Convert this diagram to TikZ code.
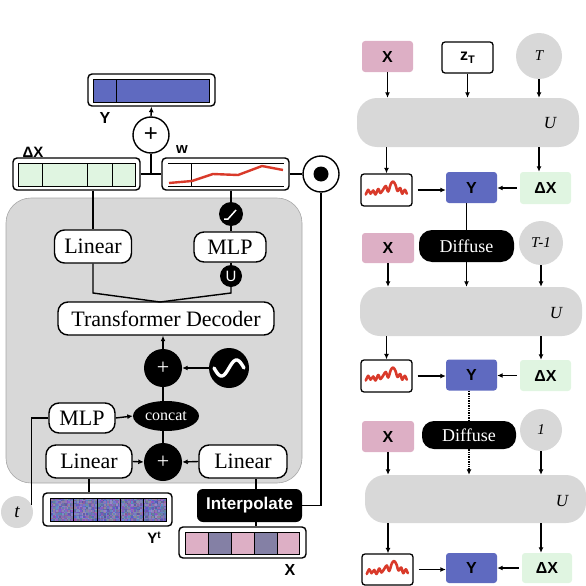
\documentclass[tikz,border=0pt]{standalone}
\usepackage{fontspec}
\setmainfont{Liberation Serif}
\setsansfont{Liberation Sans}
\usetikzlibrary{arrows.meta,shapes.geometric,calc}
\definecolor{pinkX}{RGB}{221,175,197}
\definecolor{purpX}{RGB}{132,128,165}
\definecolor{blueY}{RGB}{95,106,192}
\definecolor{greenD}{RGB}{224,245,225}
\definecolor{grayC}{RGB}{216,216,216}
\definecolor{redW}{RGB}{217,58,42}
\newcommand{\fsz}[1]{\fontsize{#1}{#1}\selectfont}
\tikzset{
  ln/.style={line width=1.4pt},
  arr/.style={line width=1.4pt,-{Latex[length=5.5pt,width=5pt]}},
  whitebox/.style={draw,line width=1.4pt,fill=white,rounded corners=10pt,inner sep=0pt,font=\fsz{22}},
  blackcirc/.style={circle,fill=black,inner sep=0pt,text=white},
  framebox/.style={draw,line width=1.4pt,fill=white,rounded corners=4pt,inner sep=0pt},
  lbl/.style={inner sep=0pt,font=\sffamily\bfseries\fsz{16}},
  smallbox/.style={rounded corners=3pt,inner sep=0pt,minimum width=51pt,minimum height=31pt,font=\sffamily\bfseries\fsz{16}},
  ublock/.style={fill=grayC,rounded corners=20pt,inner sep=0pt,minimum height=49pt},
  ulab/.style={inner sep=0pt,font=\itshape\fsz{17}},
  timecirc/.style={circle,fill=grayC,inner sep=0pt,font=\itshape\fsz{15}},
  diffbox/.style={fill=black,text=white,rounded corners=13pt,inner sep=0pt,minimum width=95pt,font=\fsz{18}},
  wavepath/.style={redW,line width=2.6pt,line join=round,line cap=round}
}
\newcommand{\wave}[1]{%
  \draw[wavepath,shift={(#1)},yshift=-0.5pt] plot[smooth,tension=0.5] coordinates {(-20.7,4) (-18.3,-0.7) (-16,3.2) (-13.3,0) (-11,4) (-8.3,-1.5) (-6,2.5) (-3,-1.5) (-0.7,-4.5) (1.7,1) (4.3,-6.5) (6.7,-9) (9,-5.5) (11,0.5) (13.7,-2.5) (15.7,3.2) (18.3,-0.7) (20.3,3.2)};}
\begin{document}
\begin{tikzpicture}[x=1pt,y=-1pt]
\useasboundingbox (0,0) rectangle (586,586);

% ---------------- left: panel ----------------
\draw[fill=grayC,draw=black!35,line width=0.6pt,rounded corners=25pt] (6,198) rectangle (302,483);

% Y output box
\node[framebox,minimum width=127pt,minimum height=32pt] (ybox) at (151.5,90) {};
\fill[blueY] (93,79) rectangle (209,102);
\draw[line width=0.6pt] (93,79) rectangle (209,102) (116,79) -- (116,102);
\node[lbl,font=\sffamily\bfseries\fsz{16}] (ylab) at (105,118) {Y};

% plus (white)
\node[circle,draw,line width=1.4pt,fill=white,minimum size=36pt,inner sep=0pt,font=\sffamily\fsz{24}] (plusA) at (151,135) {+};
\draw[arr] (plusA.north) -- (ybox.south);

% Delta X box
\node[lbl,font=\sffamily\bfseries\fsz{15}] (dxlab) at (33,152) {ΔX};
\node[framebox,minimum width=127pt,minimum height=32pt] (dxbox) at (76.5,174) {};
\fill[greenD] (18,163) rectangle (135,186);
\draw[line width=0.8pt] (18,163) rectangle (135,186) (42,163) -- (42,186) (87,163) -- (87,186) (112,163) -- (112,186);

% w box
\node[lbl,font=\sffamily\bfseries\fsz{15}] (wlab) at (182,150) {w};
\node[framebox,minimum width=127pt,minimum height=32pt] (wbox) at (225.5,174) {};
\draw[line width=0.8pt] (168,163) -- (284,163) (168,186) -- (284,186) (191,163) -- (191,186);
\draw[redW,line width=2.4pt,line join=round] (169,183) -- (192,181) -- (213,174) -- (238,175) -- (262,166) -- (283,170);

% junction
\coordinate (junc) at (151,174);
\draw[ln] (dxbox.east) -- (wbox.west);
\draw[ln] (plusA.south) -- (junc);

% odot
\node[circle,draw,line width=1.4pt,fill=white,minimum size=36pt,inner sep=0pt] (odot) at (321,174) {};
\fill (odot.center) circle (7.5);
\draw[ln] (wbox.east) -- (odot.west);

% top Linear / MLP
\node[whitebox,minimum width=77pt,minimum height=33pt] (linA) at (93,246.5) {Linear};
\node[whitebox,minimum width=72pt,minimum height=30pt] (mlpA) at (230,247) {MLP};
\node[blackcirc,minimum size=24pt] (actA) at (231,214) {};
\draw[white,line width=1.5pt] ($(actA)+(-7,5)$) -- ($(actA)+(-3,5)$) -- ($(actA)+(5,-4)$);
\node[blackcirc,minimum size=22pt,font=\sffamily\fsz{15}] (uA) at (231,276) {U};

\draw[ln] (wbox.south -| actA) -- (actA.north);
\draw[ln] (actA.south) -- (mlpA.north -| actA);
\draw[ln] (mlpA.south -| uA) -- (uA.north);
\draw[ln] (dxbox.south -| linA) -- (linA.north);

% transformer decoder
\node[whitebox,minimum width=216pt,minimum height=33pt] (tdec) at (166,318.5) {Transformer Decoder};
\coordinate (merge) at (160,302);
\draw[ln] (linA.south) -- (93,293) -- (merge);
\draw[ln] (uA.south) -- (231,293) -- (merge);

% plus B + sine
\node[blackcirc,minimum size=38pt,font=\fsz{22}] (plusB) at (163,368) {+};
\node[blackcirc,minimum size=40pt] (sine) at (229,368) {};
\draw[white,line width=3.4pt,line cap=round] plot[domain=-15:15,samples=50] ({229+\x},{368-8*sin(\x/15*180)});
\draw[arr] (plusB.north) -- (tdec.south -| plusB);
\draw[arr] (sine.west) -- (plusB.east);

% concat + MLP
\node[ellipse,fill=black,text=white,minimum width=66pt,minimum height=30pt,inner sep=0pt,font=\fsz{16}] (concat) at (166,416) {concat};
\node[whitebox,minimum width=66pt,minimum height=30pt] (mlpB) at (82,418) {MLP};
\draw[arr] (mlpB.east) -- (concat.west);
\draw[ln] (concat.north -| plusB) -- (plusB.south);

% plus C + linears
\node[blackcirc,minimum size=38pt,font=\fsz{22}] (plusC) at (163,462) {+};
\node[whitebox,minimum width=86pt,minimum height=33pt] (linB) at (89,461.5) {Linear};
\node[whitebox,minimum width=88pt,minimum height=33pt] (linC) at (243,461.5) {Linear};
\draw[arr] (linB.east) -- (plusC.west);
\draw[arr] (linC.west) -- (plusC.east);
\draw[ln] (plusC.north) -- (concat.south -| plusC);

% t circle
\node[circle,fill=grayC,minimum size=32pt,inner sep=0pt,font=\itshape\fsz{19}] (tc) at (17,512) {t};
\draw[ln] (tc.25) |- (mlpB.west);

% Y^t noisy box
\node[framebox,minimum width=129pt,minimum height=33pt] (ytbox) at (107.5,509.5) {};
\begin{scope}
\clip (50,498) rectangle (166,521);
\pgfmathsetseed{17}
\foreach \i in {0,...,76} {
  \foreach \j in {0,...,15} {
    \pgfmathsetmacro{\cR}{int(85+70*rnd)}
    \pgfmathsetmacro{\cG}{int(85+60*rnd)}
    \pgfmathsetmacro{\cB}{int(150+60*rnd)}
    \definecolor{nz}{RGB}{\cR,\cG,\cB}
    \fill[nz] (50+1.5*\i,498+1.5*\j) rectangle ++(1.6,1.6);
  }
}
\end{scope}
\draw[line width=0.7pt] (50,498) rectangle (166,521) (73,498) -- (73,521) (97,498) -- (97,521) (120,498) -- (120,521) (143,498) -- (143,521);
\draw[ln] (ytbox.north -| linB) -- (linB.south);
\node[inner sep=0pt,font=\sffamily\bfseries\fsz{15}] (ytlab) at (154,538) {Y\raisebox{5pt}{\fsz{10}t}};

% Interpolate
\node[fill=black,text=white,rounded corners=6pt,minimum width=105pt,minimum height=33pt,inner sep=0pt,font=\sffamily\bfseries\fsz{17}] (interp) at (249.5,505.5) {Interpolate};
\coordinate (colX) at (256,0);
\draw[ln] (interp.north -| colX) -- (linC.south -| colX);
\draw[ln] (interp.east) -| (odot.south);

% X box
\node[framebox,minimum width=127pt,minimum height=31pt] (xbox) at (242.5,542.5) {};
\fill[pinkX] (185,532) rectangle (208,554);
\fill[purpX] (208,532) rectangle (231,554);
\fill[pinkX] (231,532) rectangle (254,554);
\fill[purpX] (254,532) rectangle (277,554);
\fill[pinkX] (277,532) rectangle (299,554);
\draw[line width=0.8pt] (185,532) rectangle (299,554) (208,532) -- (208,554) (231,532) -- (231,554) (254,532) -- (254,554) (277,532) -- (277,554);
\draw[ln] (xbox.north -| colX) -- (interp.south -| colX);
\node[lbl,font=\sffamily\bfseries\fsz{16}] (xlab) at (290,570) {X};

% ---------------- right: unrolled ----------------
% step T
\node[smallbox,fill=pinkX] (rX1) at (387.5,56.5) {X};
\node[smallbox,draw,line width=1.3pt,fill=white] (zT) at (467.5,57.5) {z\raisebox{-3pt}{\fsz{11}T}};
\node[timecirc,minimum size=46pt] (T1) at (539,56) {T};
\node[ublock,minimum width=222pt] (U1) at (468,122.5) {};
\node[ulab] (u1l) at (550,123) {U};
\draw[arr] (rX1.south) -- (rX1.south |- U1.north);
\draw[arr] (zT.south) -- (zT.south |- U1.north);
\draw[arr] (T1.south) -- (T1.south |- U1.north);

\node[smallbox,draw,line width=1.3pt,fill=white,minimum height=32pt] (wav1) at (386.5,190) {};
\wave{wav1.center}
\node[smallbox,fill=blueY] (Y1) at (471.5,187.5) {Y};
\node[smallbox,fill=greenD,minimum height=32pt] (dx1) at (545.5,188) {ΔX};
\draw[arr] (U1.south -| wav1) -- (wav1.north);
\draw[arr] (U1.south -| T1) -- (dx1.north -| T1);
\draw[arr,shorten <=5pt] (wav1.east) -- (Y1.west |- wav1.east);
\draw[arr,shorten <=3pt] (dx1.west) -- (Y1.east |- dx1.west);

% step T-1
\node[diffbox,minimum height=32pt] (diff1) at (466.5,246) {Diffuse};
\draw[ln] (Y1.south -| diff1) -- (diff1.north);
\node[smallbox,fill=pinkX,minimum height=30pt,minimum width=52pt] (rX2) at (388,248) {X};
\node[timecirc,minimum size=44pt] (T2) at (541,243) {T-1};
\node[ublock,minimum width=222pt] (U2) at (471,311.5) {};
\node[ulab] (u2l) at (556,313) {U};
\draw[arr] (rX2.south) -- (rX2.south |- U2.north);
\draw[arr] (diff1.south) -- (diff1.south |- U2.north);
\draw[arr] (T2.south) -- (T2.south |- U2.north);

\node[smallbox,draw,line width=1.3pt,fill=white,minimum height=32pt] (wav2) at (386.5,376) {};
\wave{wav2.center}
\node[smallbox,fill=blueY] (Y2) at (471.5,375) {Y};
\node[smallbox,fill=greenD] (dx2) at (545.5,375.5) {ΔX};
\draw[arr] (U2.south -| wav2) -- (wav2.north);
\draw[arr] (U2.south -| T2) -- (dx2.north -| T2);
\draw[arr,shorten <=5pt] (wav2.east) -- (Y2.west |- wav2.east);
\draw[arr,shorten <=3pt] (dx2.west) -- (Y2.east |- dx2.west);

% step 1
\node[diffbox,minimum height=28pt,rounded corners=12pt,minimum width=94pt] (diff2) at (469,435) {Diffuse};
\draw[ln,densely dotted] (Y2.south -| diff2) -- (diff2.north);
\node[smallbox,fill=pinkX,minimum width=52pt] (rX3) at (388,436.5) {X};
\node[timecirc,minimum size=42pt] (T3) at (541,430) {1};
\node[ublock,minimum width=221pt,minimum height=48pt] (U3) at (475.5,499) {};
\node[ulab] (u3l) at (562,501) {U};
\draw[arr,densely dotted] (diff2.south) -- (diff2.south |- U3.north);
\draw[arr] (rX3.south) -- (rX3.south |- U3.north);
\draw[arr] (T3.south) -- (T3.south |- U3.north);

\node[smallbox,draw,line width=1.3pt,fill=white] (wav3) at (387.5,569.5) {};
\wave{wav3.center}
\node[smallbox,fill=blueY,minimum height=30pt] (Y3) at (471.5,568) {Y};
\node[smallbox,fill=greenD,minimum height=30pt,minimum width=50pt] (dx3) at (547,568) {ΔX};
\draw[arr] (U3.south -| rX3) -- (wav3.north -| rX3);
\draw[arr] (U3.south -| T3) -- (dx3.north -| T3);
\draw[arr,shorten <=5pt] (wav3.east) -- (Y3.west |- wav3.east);
\draw[arr,shorten <=3pt] (dx3.west) -- (Y3.east |- dx3.west);
\end{tikzpicture}
\end{document}
